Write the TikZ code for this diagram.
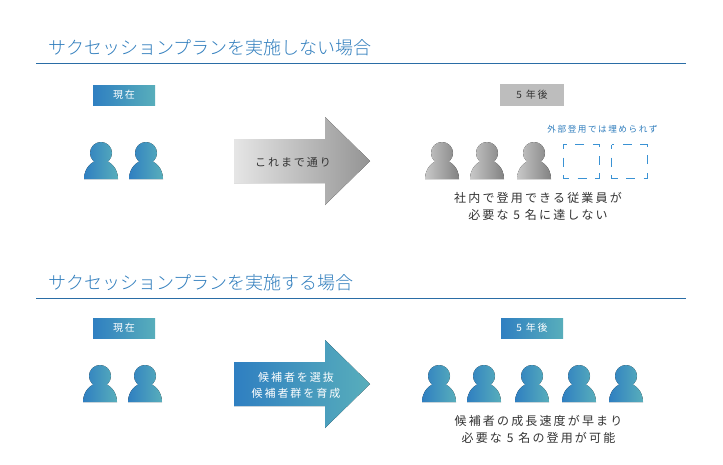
\documentclass[tikz,border=0pt]{standalone}
\usepackage{fontspec}
\setmainfont[UprightFont=* Light,LetterSpace=0]{Noto Sans CJK JP}
\newfontfamily\jpA[LetterSpace=18]{Noto Sans CJK JP}
\definecolor{bleft}{HTML}{2F7FC1}
\definecolor{bright}{HTML}{58AEBB}
\definecolor{gleft}{HTML}{C8C8C8}
\definecolor{gright}{HTML}{828282}
\definecolor{rulecol}{HTML}{2A6DA6}
\definecolor{titlecol}{HTML}{2F7DBD}
\definecolor{slotcol}{HTML}{3A92D4}
\definecolor{txt}{HTML}{333333}
\tikzset{
 x=1pt,y=-1pt,
 blue grad/.style={left color=bleft,right color=bright,draw=none},
 gray grad/.style={left color=gleft,right color=gright,draw=none},
 titletext/.style={anchor=west,inner sep=0pt,text=titlecol,font=\fontsize{18}{18}\selectfont},
 titlerule/.style={draw=rulecol,line width=1pt},
 tag/.style={minimum width=62pt,minimum height=20pt,inner sep=0pt,text=white,font=\jpA\fontsize{10}{10}\selectfont},
 bluetag/.style={tag,blue grad},
 graytag/.style={tag,fill=black!26,text=txt},
 body/.style={inner sep=0pt,align=center,text=txt,font=\jpA\fontsize{12}{17}\selectfont},
 note/.style={inner sep=0pt,text=titlecol,font=\jpA\fontsize{8.6}{10}\selectfont},
 arrowtext/.style={inner sep=0pt,align=center,font=\jpA\fontsize{11}{16}\selectfont},
 slot/.style={draw=slotcol,line width=1pt,dash pattern=on 9pt off 8.5pt,dash phase=4.5pt},
}
\newcommand{\person}[3]{% x, bottom y, style
 \fill[#3] (#1-17,#2) arc[start angle=180,end angle=0,x radius=17pt,y radius=19pt] -- cycle
 (#1-11,#2-26) arc[start angle=180,end angle=-180,radius=11pt] -- cycle;}
\newcommand{\bigarrow}[2]{% centre y, style
 \fill[#2] (234,#1-22) -- (325,#1-22) -- (325,#1-44) -- (370,#1) -- (325,#1+44) -- (325,#1+22) -- (234,#1+22) -- cycle;}
\begin{document}
\begin{tikzpicture}
\useasboundingbox (0,0) rectangle (723,464);
\fill[white] (0,0) rectangle (723,464);
% titles
\node[titletext] (t1) at (48,48) {サクセッションプランを実施しない場合};
\node[titletext] (t2) at (48,282.5) {サクセッションプランを実施する場合};
\draw[titlerule] (36,63.5) -- (686,63.5);
\draw[titlerule] (36,298) -- (686,298);
% tags
\node[bluetag] (now1) at (124,95) {現在};
\node[graytag,minimum width=64pt,minimum height=22pt] (later1) at (532,95) {5 年後};
\node[bluetag] (now2) at (124,328) {現在};
\node[bluetag] (later2) at (532,328) {5 年後};
% people
\person{101}{179}{blue grad}
\person{146}{179}{blue grad}
\person{442}{179}{gray grad}
\person{487}{179}{gray grad}
\person{534}{179}{gray grad}
\person{100}{402}{blue grad}
\person{145}{402}{blue grad}
\person{439}{402}{blue grad}
\person{484}{402}{blue grad}
\person{532}{402}{blue grad}
\person{579}{402}{blue grad}
\person{626}{402}{blue grad}
% open slots
\draw[slot] (563,144.5) rectangle (599,178);
\draw[slot] (611.5,144.5) rectangle (647,178);
\node[note] (n1) at (602.5,129) {外部登用では埋められず};
% arrows
\bigarrow{161}{left color=black!10,right color=black!42}
\bigarrow{384}{blue grad}
\node[arrowtext,text=txt] (a1) at (293,162) {これまで通り};
\node[arrowtext,text=white] (a2) at (296,385) {候補者を選抜\\候補者群を育成};
% captions
\node[body] (c1) at (538,206.5) {社内で登用できる従業員が\\必要な 5 名に達しない};
\node[body] (c2) at (538.5,429) {候補者の成長速度が早まり\\必要な 5 名の登用が可能};
\end{tikzpicture}
\end{document}
